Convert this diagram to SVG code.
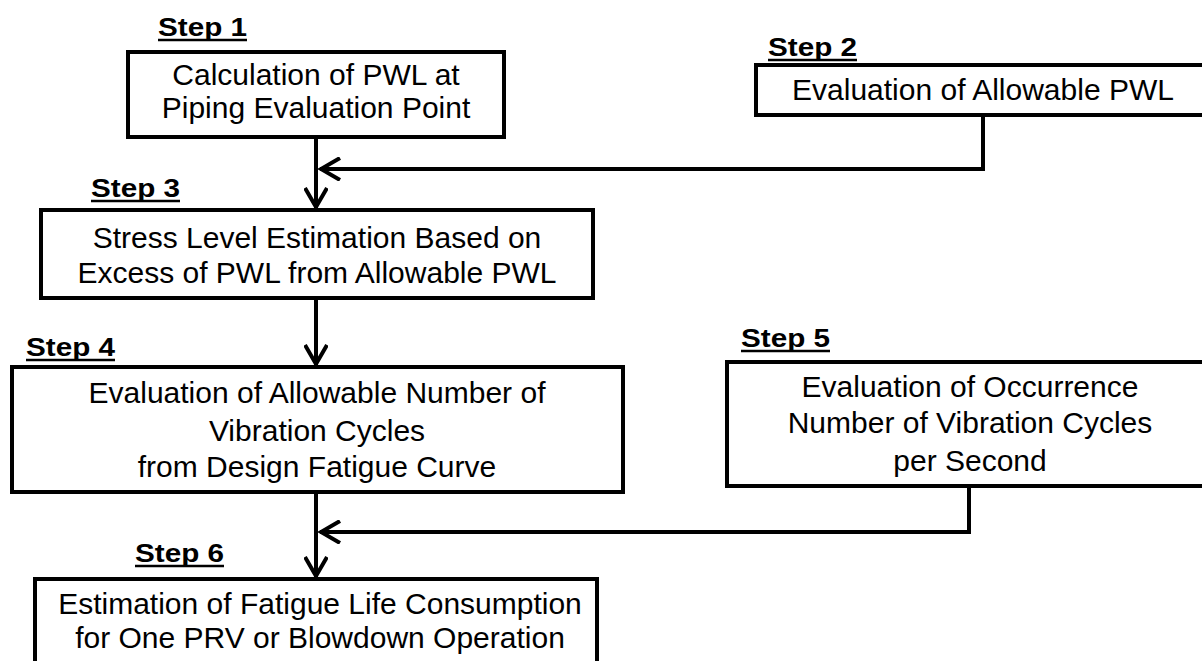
<svg xmlns="http://www.w3.org/2000/svg" width="1202" height="661" viewBox="0 0 1202 661">
<defs>
<style>
.box{fill:#fff;stroke:#000;stroke-width:4}
.t{font-family:"Liberation Sans",Arial,sans-serif;font-size:30px;fill:#000;text-anchor:middle}
.s{font-family:"Liberation Sans",Arial,sans-serif;font-size:26px;font-weight:bold;fill:#000}
.u{stroke:#000;stroke-width:2.5}
.c{fill:none;stroke:#000;stroke-width:4}
</style>
<marker id="ah" viewBox="0 0 24 24" refX="22" refY="12" markerWidth="24" markerHeight="24" markerUnits="userSpaceOnUse" orient="auto">
<path d="M2,1 L21,12 L2,23" fill="none" stroke="#000" stroke-width="4"/>
</marker>
</defs>
<rect width="1202" height="661" fill="#fff"/>
<g id="connectors">
<path class="c" d="M316,137 V208" marker-end="url(#ah)"/>
<path class="c" d="M983,115 V169 H320" marker-end="url(#ah)"/>
<path class="c" d="M316,298 V365" marker-end="url(#ah)"/>
<path class="c" d="M969,486 V532 H320" marker-end="url(#ah)"/>
<path class="c" d="M316,492 V577" marker-end="url(#ah)"/>
</g>
<g id="step1">
<text class="s" x="158" y="36" textLength="89" lengthAdjust="spacingAndGlyphs">Step 1</text>
<line class="u" x1="158" y1="40" x2="247" y2="40"/>
<rect class="box" x="128" y="52" width="376" height="85"/>
<text class="t" x="316" y="85">Calculation of PWL at</text>
<text class="t" x="316" y="118">Piping Evaluation Point</text>
</g>
<g id="step2">
<text class="s" x="768" y="56" textLength="89" lengthAdjust="spacingAndGlyphs">Step 2</text>
<line class="u" x1="768" y1="60" x2="857" y2="60"/>
<rect class="box" x="756" y="65" width="454" height="50"/>
<text class="t" x="983" y="100">Evaluation of Allowable PWL</text>
</g>
<g id="step3">
<text class="s" x="91" y="197" textLength="89" lengthAdjust="spacingAndGlyphs">Step 3</text>
<line class="u" x1="91" y1="201" x2="180" y2="201"/>
<rect class="box" x="41" y="210" width="552" height="88"/>
<text class="t" x="317" y="248">Stress Level Estimation Based on</text>
<text class="t" x="317" y="283">Excess of PWL from Allowable PWL</text>
</g>
<g id="step4">
<text class="s" x="26" y="356" textLength="89" lengthAdjust="spacingAndGlyphs">Step 4</text>
<line class="u" x1="26" y1="360" x2="115" y2="360"/>
<rect class="box" x="12" y="367" width="611" height="125"/>
<text class="t" x="317" y="403">Evaluation of Allowable Number of</text>
<text class="t" x="317" y="441">Vibration Cycles</text>
<text class="t" x="317" y="477">from Design Fatigue Curve</text>
</g>
<g id="step5">
<text class="s" x="741" y="347" textLength="89" lengthAdjust="spacingAndGlyphs">Step 5</text>
<line class="u" x1="741" y1="351" x2="830" y2="351"/>
<rect class="box" x="727" y="362" width="486" height="124"/>
<text class="t" x="970" y="397">Evaluation of Occurrence</text>
<text class="t" x="970" y="433">Number of Vibration Cycles</text>
<text class="t" x="970" y="471">per Second</text>
</g>
<g id="step6">
<text class="s" x="135" y="562" textLength="89" lengthAdjust="spacingAndGlyphs">Step 6</text>
<line class="u" x1="135" y1="566" x2="224" y2="566"/>
<rect class="box" x="35" y="579" width="562" height="120"/>
<text class="t" x="320" y="614">Estimation of Fatigue Life Consumption</text>
<text class="t" x="320" y="648">for One PRV or Blowdown Operation</text>
</g>
</svg>
